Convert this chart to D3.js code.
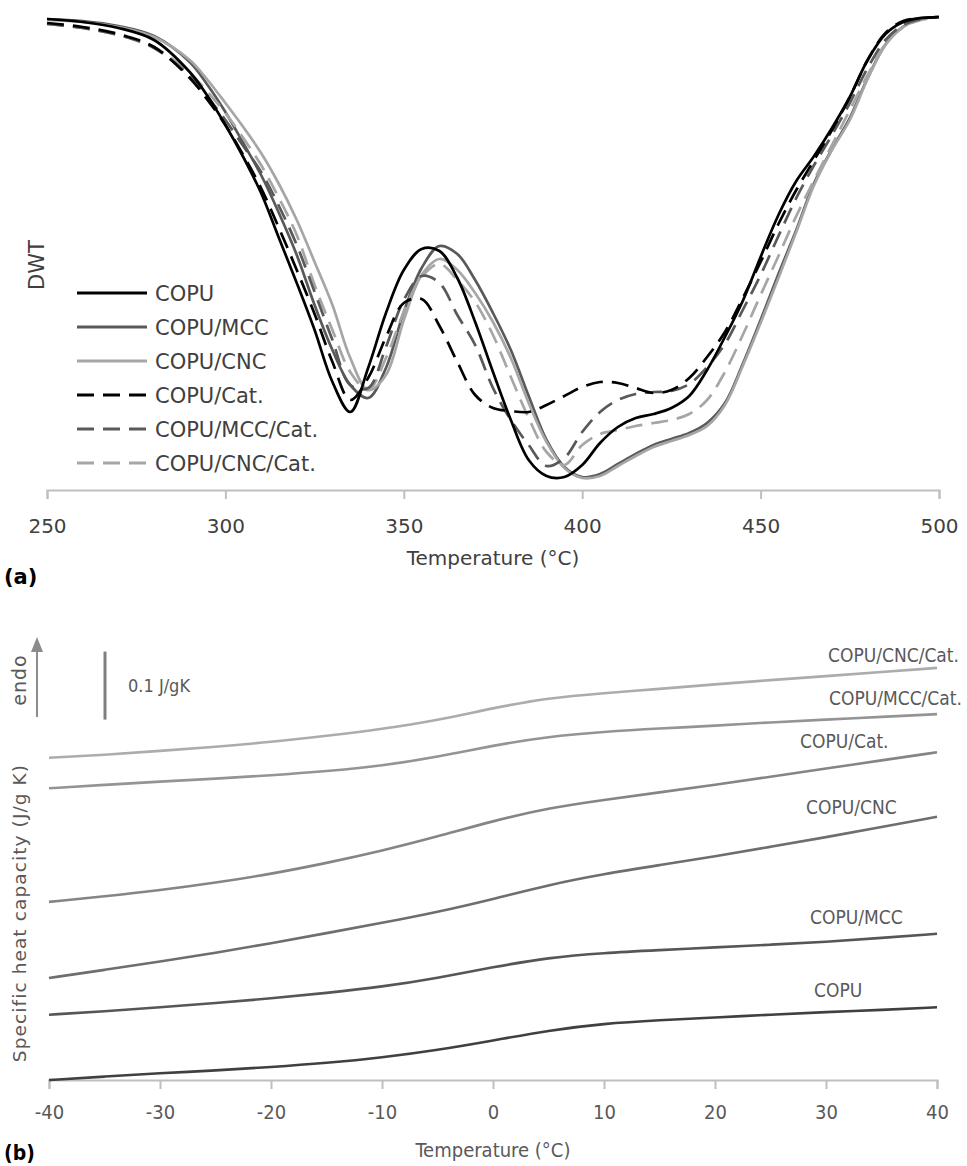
<!DOCTYPE html>
<html><head><meta charset="utf-8">
<script src="https://cdn.jsdelivr.net/npm/d3@7"></script>
<style>
html,body{margin:0;padding:0;background:#fff;}
svg{display:block;}
.top text{font-family:"DejaVu Sans",Verdana,sans-serif;fill:#404040;}
.bot text{font-family:"Liberation Sans Narrow","DejaVu Sans Condensed","Roboto Condensed",Roboto,sans-serif;fill:#595959;}
</style></head>
<body>
<svg id="chart" width="967" height="1166"></svg>
<script>
// ---------- (a) DWT data ----------
const dwtTemps = [250,260,270,280,290,295,300,305,310,315,320,325,330,335,340,345,350,355,360,365,370,375,380,385,390,395,400,405,410,415,420,425,430,435,440,445,450,455,460,465,470,475,480,485,490,495,500];
const dwtCOPU = [94.2,93.6,92.4,90,83.6,78.8,73,66.6,59.4,50.4,41.4,32,21.6,15.6,24.4,35.4,44,48.2,47.8,42.4,33.6,23.6,14,6,2.8,2.6,5,9.4,12.6,14.4,15.2,16.4,18.8,24,30.6,37.8,46.6,55,61.8,66.8,72.4,78.6,86,91.2,93.6,94.4,94.6];
const dwtMCC = [94.2,93.8,92.8,90.8,85.6,81,75.6,69.4,63,55.4,47,37,28,21,18.4,24.4,35.6,44.4,48.8,47.2,42,35.4,28,18.8,10,4.6,2.6,3.2,5.2,7.2,9,10.2,11.4,13.4,17.4,25.2,34,43.2,52,61.4,68.2,74.4,82.4,89.1,92.7,94.2,94.6];
const dwtCNC = [94,93.6,92.6,90.6,86,82,77.4,72.6,67.4,61.2,54,45.6,37,26.4,20,23,34,43,46.2,44,39.4,33.6,26.4,17.4,9.6,4.4,2.4,2.8,4.8,6.8,8.6,9.8,11,12.8,17,24.8,33.4,42.4,51.6,61,68,74,82.2,89,92.6,94.2,94.6];
const dwtCat = [93.4,92.6,91.2,88.6,82.4,78,73,67,60.4,52.4,44,35.2,25.6,18,22.4,30.6,37.4,38.2,32.8,25.6,19,16.4,15.8,15.6,17,18.8,20.6,21.6,21.4,20.4,19.4,20,22.4,26.6,31.6,38.4,45.6,53.2,60,66,72,78.6,86,91.4,93.8,94.4,94.6];
const dwtMCCCat = [93.2,92.4,91,88.4,82.8,78.6,74,68.8,63.6,56.8,49,39.6,30,21,20.4,28.6,38,42.8,41.4,35,29,20.4,14,9,4.8,6.4,11.6,15.6,18,19.2,19.6,19.8,21.2,24.6,29.2,36,43,50.8,58.4,65,71,77.4,84.4,90,93,94.2,94.6];
const dwtCNCCat = [93.2,92.4,91,88.6,83.4,79.6,75.4,70.4,65,58.4,51,41,32,23.6,20,26.4,35.6,42.6,45.2,42,37.6,31,22.6,14.4,7.6,5,9,11.2,12,12.8,13.4,14,15.2,18,23.6,31,39,46.8,54.8,62,69,76,83,89.2,92.6,94,94.6];
const dwtNames = ["COPU","COPU/MCC","COPU/CNC","COPU/Cat.","COPU/MCC/Cat.","COPU/CNC/Cat."];
const dwtTicks = [250,300,350,400,450,500];

// ---------- (b) Specific heat capacity data ----------
const cpTemps = [-40,-35,-30,-25,-20,-15,-10,-5,0,5,10,15,20,25,30,35,40];
const cpCOPU = [0,0.005,0.010,0.014,0.019,0.025,0.033,0.044,0.058,0.073,0.083,0.088,0.092,0.096,0.100,0.103,0.107];
const cpMCC = [0.096,0.101,0.107,0.113,0.120,0.128,0.137,0.150,0.166,0.180,0.187,0.191,0.195,0.199,0.203,0.209,0.215];
const cpCNC = [0.150,0.162,0.174,0.187,0.201,0.216,0.231,0.247,0.266,0.287,0.303,0.316,0.329,0.343,0.357,0.372,0.387];
const cpCat = [0.262,0.270,0.279,0.290,0.303,0.319,0.337,0.358,0.381,0.400,0.412,0.423,0.434,0.446,0.458,0.470,0.482];
const cpMCCCat = [0.429,0.434,0.439,0.443,0.448,0.454,0.462,0.475,0.492,0.505,0.512,0.517,0.521,0.526,0.530,0.534,0.538];
const cpCNCCat = [0.474,0.478,0.484,0.490,0.497,0.506,0.516,0.529,0.547,0.562,0.569,0.575,0.582,0.588,0.594,0.600,0.606];
const cpTicks = [-40,-30,-20,-10,0,10,20,30,40];
const cpScaleBar = [0.53, 0.63];

const svg = d3.select("#chart");
svg.append("rect").attr("width",967).attr("height",1166).attr("fill","#fff");

// ================= (a) =================
const gA = svg.append("g").attr("class","top");
const xA = d3.scaleLinear().domain([250,500]).range([47,939]);
const yA = d3.scaleLinear().domain([0,95]).range([490,15]);

const dwtSeries = [
  {name:dwtNames[0], vals:dwtCOPU, color:"#000000", dash:null},
  {name:dwtNames[1], vals:dwtMCC, color:"#595959", dash:null},
  {name:dwtNames[2], vals:dwtCNC, color:"#a6a6a6", dash:null},
  {name:dwtNames[3], vals:dwtCat, color:"#000000", dash:"17,9"},
  {name:dwtNames[4], vals:dwtMCCCat, color:"#595959", dash:"17,9"},
  {name:dwtNames[5], vals:dwtCNCCat, color:"#a6a6a6", dash:"17,9"}
];
const lineA = d3.line().x(d=>xA(d[0])).y(d=>yA(d[1])).curve(d3.curveCatmullRom.alpha(0.5));

const axA = gA.append("g").attr("transform","translate(0,"+yA(0)+")")
  .call(d3.axisBottom(xA).tickValues(dwtTicks).tickFormat(d=>String(d)).tickSize(9).tickPadding(20));
axA.select(".domain").attr("stroke","#bfbfbf").attr("stroke-width",2);
axA.selectAll(".tick line").attr("stroke","#bfbfbf").attr("stroke-width",2);
axA.selectAll(".tick text").attr("font-size",20).attr("fill","#404040")
  .style("font-family",'"DejaVu Sans",Verdana,sans-serif');

[1,2,5,4,3,0].forEach(i=>{
  const s = dwtSeries[i];
  gA.append("path").datum(dwtTemps.map((t,j)=>[t,s.vals[j]]))
    .attr("d",lineA).attr("fill","none").attr("stroke",s.color)
    .attr("stroke-width",2.7).attr("stroke-dasharray",s.dash);
});

dwtSeries.forEach((s,i)=>{
  const yy = 293 + i*34;
  gA.append("line").attr("x1",77).attr("x2",147).attr("y1",yy).attr("y2",yy)
    .attr("stroke",s.color).attr("stroke-width",3).attr("stroke-dasharray",s.dash);
  gA.append("text").attr("x",155).attr("y",yy).attr("dy","0.36em")
    .attr("font-size",21).text(s.name);
});

gA.append("text").attr("x",493).attr("y",558).attr("dy","0.36em").attr("text-anchor","middle")
  .attr("font-size",20).text("Temperature (°C)");
gA.append("text").attr("transform","translate(36,265) rotate(-90)").attr("text-anchor","middle")
  .attr("dy","0.36em").attr("font-size",21).text("DWT");
gA.append("text").attr("x",4).attr("y",576).attr("dy","0.36em").attr("font-size",21)
  .attr("font-weight","bold").style("fill","#000").text("(a)");

// ================= (b) =================
const gB = svg.append("g").attr("class","bot");
const xB = d3.scaleLinear().domain([-40,40]).range([49,937]);
const yB = d3.scaleLinear().domain([0,0.66]).range([1080,1080-0.66*680]);

const axB = gB.append("g").attr("transform","translate(0,"+yB(0)+")")
  .call(d3.axisBottom(xB).tickValues(cpTicks).tickFormat(d=>String(d)).tickSize(9).tickPadding(16));
axB.select(".domain").attr("stroke","#bfbfbf").attr("stroke-width",2);
axB.selectAll(".tick line").attr("stroke","#bfbfbf").attr("stroke-width",2);
axB.selectAll(".tick text").attr("font-size",20).attr("fill","#404040")
  .style("font-family",'"Liberation Sans Narrow","DejaVu Sans Condensed","Roboto Condensed",Roboto,sans-serif');

const cpSeries = [
  {name:"COPU", vals:cpCOPU, color:"#404040", lx:814, ly:990},
  {name:"COPU/MCC", vals:cpMCC, color:"#565656", lx:810, ly:917},
  {name:"COPU/CNC", vals:cpCNC, color:"#6e6e6e", lx:806, ly:807},
  {name:"COPU/Cat.", vals:cpCat, color:"#858585", lx:800, ly:741},
  {name:"COPU/MCC/Cat.", vals:cpMCCCat, color:"#949494", lx:829, ly:698},
  {name:"COPU/CNC/Cat.", vals:cpCNCCat, color:"#acacac", lx:828, ly:655}
];
const lineB = d3.line().x(d=>xB(d[0])).y(d=>yB(d[1])).curve(d3.curveBasis);
cpSeries.forEach(s=>{
  gB.append("path").datum(cpTemps.map((t,j)=>[t,s.vals[j]]))
    .attr("d",lineB).attr("fill","none").attr("stroke",s.color).attr("stroke-width",2.6);
  gB.append("text").attr("x",s.lx).attr("y",s.ly).attr("dy","0.36em")
    .attr("font-size",19).text(s.name);
});

gB.append("line").attr("x1",105).attr("x2",105).attr("y1",yB(cpScaleBar[0])).attr("y2",yB(cpScaleBar[1]))
  .attr("stroke","#7f7f7f").attr("stroke-width",3);
gB.append("text").attr("x",128).attr("y",(yB(cpScaleBar[0])+yB(cpScaleBar[1]))/2).attr("dy","0.36em")
  .attr("font-size",18).text("0.1 J/gK");

gB.append("line").attr("x1",37).attr("x2",37).attr("y1",717).attr("y2",650)
  .attr("stroke","#8c8c8c").attr("stroke-width",2);
gB.append("path").attr("d","M31,652 L37,637 L43,652 Z").attr("fill","#8c8c8c");
gB.append("text").attr("transform","translate(19,680) rotate(-90)").attr("text-anchor","middle")
  .attr("dy","0.36em").attr("font-size",19).attr("letter-spacing",1)
  .style("font-family",'"DejaVu Sans",Verdana,sans-serif').text("endo");
gB.append("text").attr("transform","translate(19,913) rotate(-90)").attr("text-anchor","middle")
  .attr("dy","0.36em").attr("font-size",18.5).attr("letter-spacing",1.1)
  .style("font-family",'"DejaVu Sans",Verdana,sans-serif').text("Specific heat capacity (J/g K)");

gB.append("text").attr("x",493).attr("y",1150).attr("dy","0.36em").attr("text-anchor","middle")
  .attr("font-size",20).text("Temperature (°C)");
gB.append("text").attr("x",4).attr("y",1152).attr("dy","0.36em").attr("font-size",21)
  .attr("font-weight","bold").style("fill","#000").text("(b)");
</script>
</body></html>
